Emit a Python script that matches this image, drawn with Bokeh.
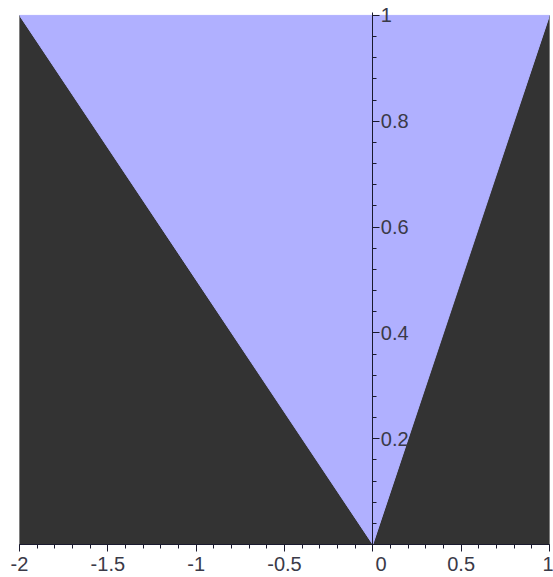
from bokeh.plotting import figure
from bokeh.models import LinearAxis, SingleIntervalTicker
from bokeh.embed import file_html
from bokeh.resources import INLINE

# Boundary of the region: y >= -x/2 for x <= 0 and y >= x for x >= 0
boundary_x = [-2.0, 0.0, 1.0]
boundary_y = [1.0, 0.0, 1.0]

x_range_bounds = [-2.0, 1.0]
y_range_bounds = [0.0, 1.0]

x_tick_labels = {-2: "-2", -1.5: "-1.5", -1: "-1", -0.5: "-0.5",
                 0: "\u00a0\u00a0\u00a00", 0.5: "0.5", 1: "1"}

x0, x1 = x_range_bounds
y0, y1 = y_range_bounds

# Region polygons built from the boundary
inside_xs = list(boundary_x)
inside_ys = list(boundary_y)
left_xs = [x0, boundary_x[0], boundary_x[1]]
left_ys = [y0, boundary_y[0], boundary_y[1]]
right_xs = [boundary_x[1], boundary_x[2], x1]
right_ys = [boundary_y[1], boundary_y[2], y0]

DARK = "#333333"
LIGHT = "#b0b0ff"
AXIS = "#1a1a2e"
LABEL = "#3a3a48"
FONT = "Liberation Sans"

# a little white headroom above y = 1 so the top tick label is not cut
y_top = y1 * 1.0282

p = figure(width=553, height=577, output_backend="svg", toolbar_location=None,
           x_range=(x0, x1), y_range=(y0, y_top),
           x_axis_type=None, y_axis_type=None,
           min_border_left=19, min_border_right=4,
           min_border_top=0, min_border_bottom=29)
p.outline_line_color = None
p.grid.visible = False
p.background_fill_color = "white"
p.border_fill_color = "white"

p.patch(left_xs, left_ys, fill_color=DARK, line_color=DARK, line_width=1)
p.patch(right_xs, right_ys, fill_color=DARK, line_color=DARK, line_width=1)
p.patch(inside_xs, inside_ys, fill_color=LIGHT, line_color=LIGHT, line_width=1)

# Horizontal axis along the bottom (y = 0)
xaxis = LinearAxis(ticker=SingleIntervalTicker(interval=0.5, num_minor_ticks=5))
xaxis.major_label_overrides = x_tick_labels
xaxis.axis_line_color = AXIS
xaxis.major_tick_line_color = AXIS
xaxis.minor_tick_line_color = AXIS
xaxis.major_tick_out = 7
xaxis.major_tick_in = 0
xaxis.minor_tick_out = 4
xaxis.minor_tick_in = 0
xaxis.major_label_standoff = 1
xaxis.major_label_text_font = FONT
xaxis.major_label_text_font_size = "20px"
xaxis.major_label_text_color = LABEL
p.add_layout(xaxis, "below")

# Vertical axis through x = 0, labels on its right
yaxis = LinearAxis(fixed_location=0, bounds=(y0, y1 * 1.006),
                   ticker=SingleIntervalTicker(interval=0.2, num_minor_ticks=5))
yaxis.axis_line_color = AXIS
yaxis.major_tick_line_color = AXIS
yaxis.minor_tick_line_color = AXIS
yaxis.major_tick_out = 7
yaxis.major_tick_in = 0
yaxis.minor_tick_out = 4
yaxis.minor_tick_in = 0
yaxis.major_label_standoff = 1
yaxis.major_label_text_font = FONT
yaxis.major_label_text_font_size = "20px"
yaxis.major_label_text_color = LABEL
yaxis.major_label_overrides = {0: ""}
p.add_layout(yaxis, "right")

open("out.html", "w").write(file_html(p, INLINE))
